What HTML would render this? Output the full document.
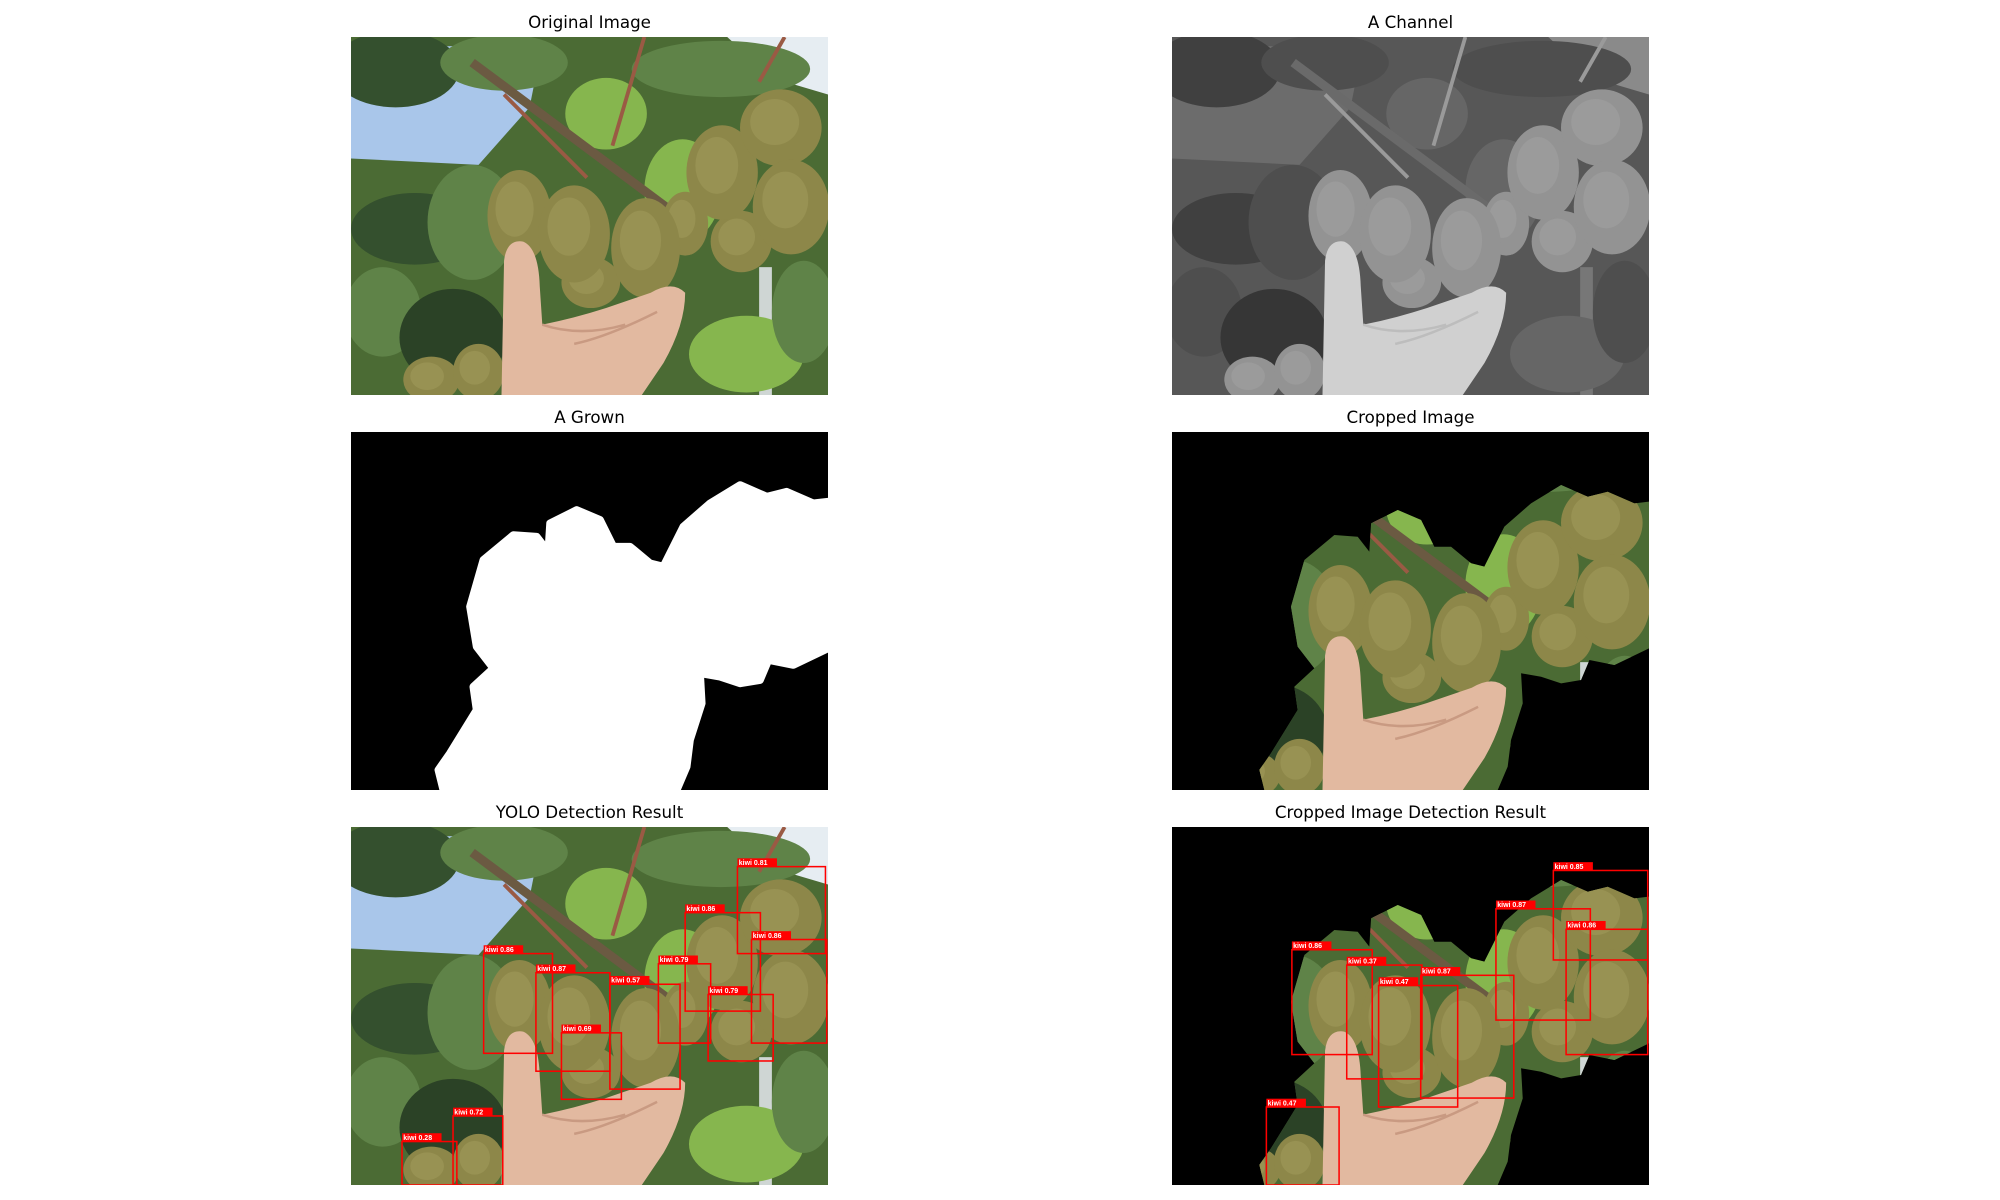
<!DOCTYPE html>
<html><head><meta charset="utf-8">
<style>
html,body{margin:0;padding:0;background:#fff;}
body{width:2000px;height:1200px;position:relative;overflow:hidden;font-family:"DejaVu Sans","Liberation Sans",sans-serif;}
.title{position:absolute;width:477px;text-align:center;font-size:16.7px;color:#000;line-height:20px;}
.panel{position:absolute;width:477px;height:358px;}
</style></head>
<body>
<div class="title" style="left:351px;top:12px">Original Image</div>
<div class="title" style="left:1172px;top:12px">A Channel</div>
<div class="title" style="left:351px;top:407px">A Grown</div>
<div class="title" style="left:1172px;top:407px">Cropped Image</div>
<div class="title" style="left:351px;top:802px">YOLO Detection Result</div>
<div class="title" style="left:1172px;top:802px">Cropped Image Detection Result</div>

<svg class="panel" id="p1" style="left:351px;top:37px" viewBox="0 0 374 280" preserveAspectRatio="none"></svg>
<svg class="panel" id="p2" style="left:1172px;top:37px" viewBox="0 0 374 280" preserveAspectRatio="none"></svg>
<svg class="panel" id="p3" style="left:351px;top:432px" viewBox="0 0 374 280" preserveAspectRatio="none"></svg>
<svg class="panel" id="p4" style="left:1172px;top:432px" viewBox="0 0 374 280" preserveAspectRatio="none"></svg>
<svg class="panel" id="p5" style="left:351px;top:827px" viewBox="0 0 374 280" preserveAspectRatio="none"></svg>
<svg class="panel" id="p6" style="left:1172px;top:827px" viewBox="0 0 374 280" preserveAspectRatio="none"></svg>

<script>
// Detection data (image-local coords: x0,y0,x1,y1 in 374x280 image space)
const yoloLabels = ["kiwi 0.81","kiwi 0.86","kiwi 0.86","kiwi 0.86","kiwi 0.87","kiwi 0.57","kiwi 0.79","kiwi 0.79","kiwi 0.69","kiwi 0.72","kiwi 0.28"];
const yoloX0 = [303,262,314,104,145,203,241,280,165,80,40];
const yoloY0 = [31,67,88,99,114,123,107,131,161,226,246];
const yoloX1 = [372,321,373,158,203,258,282,331,212,119,83];
const yoloY1 = [99,144,169,177,191,205,169,183,213,280,280];
const cropLabels = ["kiwi 0.85","kiwi 0.87","kiwi 0.86","kiwi 0.86","kiwi 0.37","kiwi 0.87","kiwi 0.47","kiwi 0.47"];
const cropX0 = [299,254,309,94,137,195,162,74];
const cropY0 = [34,64,80,96,108,116,124,219];
const cropX1 = [373,328,373,157,196,268,224,131];
const cropY1 = [104,151,178,178,197,212,219,280];

const maskPts = [[72.4,280],[68.5,264.3],[77.6,251.3],[98.5,217.4],[95.9,199.2],[111.6,184.8],[98.5,167.9],[93.3,136.6],[103.8,100.1],[127.3,80.6],[145.6,81.9],[154.7,93.6],[156.1,71.4],[177,61],[195.3,68.8],[205.7,89.7],[218.8,89.7],[234.5,102.7],[244.9,105.3],[260.6,74],[281.5,55.8],[305.1,41.5],[326,50.6],[341.6,46.7],[362.6,55.8],[374,54.5],[374,169.2],[346.9,182.2],[327.3,178.3],[320.7,194],[305.1,196.6],[289.4,191.4],[273.7,188.7],[275,212.2],[265.8,240.9],[263.2,261.7],[255.4,280]];
const maskStr = maskPts.map(p=>p.join(',')).join(' ');

const color = {bg:'#4b6b34',sky:'#a9c6ea',sky2:'#e6edf2',dark:'#34502e',dark2:'#2b4226',mid:'#5f8348',light:'#86b64e',branch:'#6b5a42',stem:'#9a5a44',kiwi:'#8d8749',kiwiHi:'#a09a5a',kiwiSh:'#6f6a38',skin:'#e2b9a0',skinSh:'#c99a82',pole:'#cfd6d4'};
const gray = {bg:'#575757',sky:'#6c6c6c',sky2:'#8a8a8a',dark:'#404040',dark2:'#363636',mid:'#4e4e4e',light:'#666666',branch:'#6a6a6a',stem:'#9a9a9a',kiwi:'#939393',kiwiHi:'#a0a0a0',kiwiSh:'#858585',skin:'#d0d0d0',skinSh:'#bdbdbd',pole:'#777'};

const kiwis = [[63,268,22,18],[100,262,20,22],[188,192,23,20],[262,146,18,25],[306,160,24,24],[132,140,25,36],[175,154,28,38],[231,165,27,39],[291,106,28,37],[337,71,32,30],[345,133,30,37]];

function photo(c){
  let s = `<rect width="374" height="280" fill="${c.bg}"/>`;
  s += `<polygon points="0,30 50,8 150,5 140,55 100,100 0,95" fill="${c.sky}"/>`;
  s += `<polygon points="295,0 374,0 374,45 330,32" fill="${c.sky2}"/>`;
  s += `<rect x="320" y="180" width="10" height="100" fill="${c.pole}"/>`;
  s += `<ellipse cx="35" cy="25" rx="50" ry="30" fill="${c.dark}"/>`;
  s += `<ellipse cx="120" cy="20" rx="50" ry="22" fill="${c.mid}"/>`;
  s += `<ellipse cx="290" cy="25" rx="70" ry="22" fill="${c.mid}"/>`;
  s += `<ellipse cx="200" cy="60" rx="32" ry="28" fill="${c.light}"/>`;
  s += `<ellipse cx="50" cy="150" rx="50" ry="28" fill="${c.dark}"/>`;
  s += `<ellipse cx="95" cy="145" rx="35" ry="45" fill="${c.mid}"/>`;
  s += `<ellipse cx="25" cy="215" rx="30" ry="35" fill="${c.mid}"/>`;
  s += `<ellipse cx="80" cy="235" rx="42" ry="38" fill="${c.dark2}"/>`;
  s += `<ellipse cx="310" cy="248" rx="45" ry="30" fill="${c.light}"/>`;
  s += `<ellipse cx="355" cy="215" rx="25" ry="40" fill="${c.mid}"/>`;
  s += `<ellipse cx="260" cy="120" rx="30" ry="40" fill="${c.light}"/>`;
  s += `<line x1="95" y1="20" x2="270" y2="150" stroke="${c.branch}" stroke-width="7"/>`;
  s += `<line x1="230" y1="0" x2="205" y2="85" stroke="${c.stem}" stroke-width="3"/>`;
  s += `<line x1="120" y1="45" x2="185" y2="110" stroke="${c.stem}" stroke-width="3"/>`;
  s += `<line x1="340" y1="0" x2="320" y2="35" stroke="${c.stem}" stroke-width="3"/>`;
  for(const k of kiwis){
    s += `<ellipse cx="${k[0]}" cy="${k[1]}" rx="${k[2]}" ry="${k[3]}" fill="${c.kiwi}"/>`;
    s += `<ellipse cx="${k[0]-k[2]*0.15}" cy="${k[1]-k[3]*0.15}" rx="${k[2]*0.6}" ry="${k[3]*0.6}" fill="${c.kiwiHi}" opacity="0.6"/>`;
  }
  s += `<path d="M118,280 L120,175 Q122,158 135,160 Q147,165 148,195 L150,225 Q175,220 200,212 L235,200 Q252,190 262,200 Q262,225 245,255 L228,280 Z" fill="${c.skin}"/>`;
  s += `<path d="M150,225 Q180,235 215,225 M175,240 Q200,235 240,215" stroke="${c.skinSh}" stroke-width="2" fill="none"/>`;
  return s;
}

const p1 = document.getElementById('p1'); p1.innerHTML = photo(color);
const p2 = document.getElementById('p2'); p2.innerHTML = photo(gray);
const p3 = document.getElementById('p3');
p3.innerHTML = `<rect width="374" height="280" fill="#000"/><polygon points="${maskStr}" fill="#fff" stroke="#fff" stroke-width="6" stroke-linejoin="round"/><rect x="0" y="0" width="374" height="280" fill="none" stroke="#000" stroke-width="0"/>`;
const p4 = document.getElementById('p4');
p4.innerHTML = `<defs><clipPath id="mclip"><polygon points="${maskStr}"/></clipPath></defs><rect width="374" height="280" fill="#000"/><g clip-path="url(#mclip)">${photo(color)}</g>`;
const p5 = document.getElementById('p5'); p5.innerHTML = photo(color);
const p6 = document.getElementById('p6');
p6.innerHTML = `<defs><clipPath id="mclip2"><polygon points="${maskStr}"/></clipPath></defs><rect width="374" height="280" fill="#000"/><g clip-path="url(#mclip2)">${photo(color)}</g>`;

const NS = 'http://www.w3.org/2000/svg';
function drawBoxes(svg, labels, x0, y0, x1, y1){
  for(let i=0;i<labels.length;i++){
    const r = document.createElementNS(NS,'rect');
    r.setAttribute('x', x0[i]); r.setAttribute('y', y0[i]);
    r.setAttribute('width', x1[i]-x0[i]); r.setAttribute('height', y1[i]-y0[i]);
    r.setAttribute('fill','none'); r.setAttribute('stroke','#f00'); r.setAttribute('stroke-width','1.2');
    
    
    svg.appendChild(r);
    const bg = document.createElementNS(NS,'rect');
    bg.setAttribute('x', x0[i]); bg.setAttribute('y', y0[i]-6.5);
    bg.setAttribute('width', 31); bg.setAttribute('height', 6.5);
    bg.setAttribute('fill','#f00');
    
    
    svg.appendChild(bg);
    const t = document.createElementNS(NS,'text');
    t.setAttribute('x', x0[i]+1); t.setAttribute('y', y0[i]-1.3);
    t.setAttribute('font-size','5.5'); t.setAttribute('font-weight','bold');
    t.setAttribute('fill','#fff'); t.setAttribute('font-family','Liberation Sans, sans-serif');
    t.textContent = labels[i];
    
    
    svg.appendChild(t);
  }
}
drawBoxes(p5, yoloLabels, yoloX0, yoloY0, yoloX1, yoloY1);
drawBoxes(p6, cropLabels, cropX0, cropY0, cropX1, cropY1);
</script>
</body></html>
